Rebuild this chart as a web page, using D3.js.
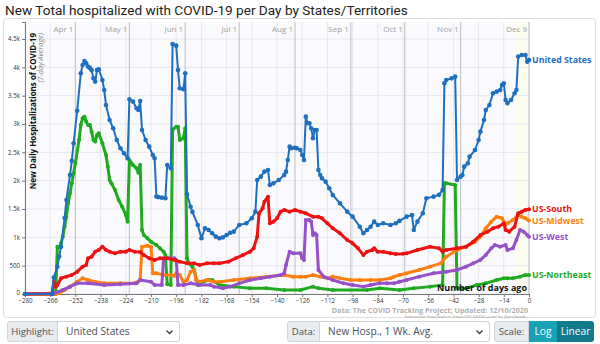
<!DOCTYPE html>
<html>
<head>
<meta charset="utf-8">
<script src="https://cdn.jsdelivr.net/npm/d3@7"></script>
<style>
  body { margin: 0; background: #fff; font-family: "Open Sans", sans-serif; }
  #wrap { position: relative; width: 600px; height: 344px; overflow: hidden; }
  #wrap > svg { position: absolute; left: 0; top: 0; }
  .grp { position: absolute; top: 321px; height: 21px; display: flex; font-size: 10.2px; color: #495057; }
  .grp div { box-sizing: border-box; height: 21px; white-space: nowrap; }
  .grp .lbl { background: #e9ecef; border: 1px solid #ced4da; border-radius: 3px 0 0 3px; padding: 0 3px; line-height: 19px; font-size: 9.6px; text-align: center; }
  .grp .sel { position: relative; background: #fff; border: 1px solid #ced4da; border-left: none; border-radius: 0 3px 3px 0; padding: 0 8px; line-height: 19px; }
  .grp .sel svg { position: absolute; right: 6px; top: 8px; }
  .grp .btn { color: #fff; line-height: 21px; text-align: center; }
</style>
</head>
<body>
<div id="wrap"></div>
<script>
// chart size
const width = 600;
const height = 344;
const plot = {left: 25, right: 529, top: 22, bottom: 294};

// days ago -> 7-day average of new hospitalizations
const usData = [
  [-280,0],[-265,0],[-264,290],[-262,480],[-261,660],[-260,835],[-258,1340],[-257,1660],
  [-255,2100],[-254,2350],[-253,2660],[-251,3235],[-249,3895],[-248,4042],[-247,4112],[-246,4070],
  [-245,4013],[-244,3990],[-243,3950],[-242,3807],[-241,3748],[-240,3953],[-239,3966],[-237,3777],
  [-236,3600],[-235,3336],[-233,3071],[-231,2925],[-229,2718],[-227,2571],[-225,2483],[-223,2395],
  [-222,3436],[-220,3395],[-218,3277],[-217,3247],[-216,3406],[-215,2894],[-213,2718],[-211,2600],
  [-209,2453],[-208,2395],[-207,1720],[-206,1710],[-204,1700],[-202,1690],[-201,2277],[-199,2218],
  [-198,4412],[-196,4383],[-195,3953],[-194,3630],[-192,3612],[-191,3895],[-190,1760],[-188,1540],
  [-187,1450],[-184,1218],[-182,983],[-180,1160],[-178,1130],[-176,1071],[-174,1012],[-172,983],
  [-170,1000],[-168,1041],[-166,1080],[-164,1100],[-161,1218],[-157,1248],[-154,1336],[-152,1453],
  [-151,2012],[-149,2071],[-147,2159],[-145,2189],[-144,1924],[-142,1953],[-139,2012],[-136,2100],
  [-135,2159],[-134,2365],[-133,2600],[-132,2571],[-130,2580],[-129,2571],[-127,2541],[-126,2453],
  [-125,2365],[-124,3130],[-123,3013],[-122,3013],[-121,2924],[-120,2748],[-119,2894],[-118,2894],
  [-117,2189],[-116,2100],[-115,2041],[-113,1983],[-111,1865],[-109,1747],[-105,1600],[-101,1453],
  [-98,1365],[-94,1188],[-92,1071],[-90,1130],[-88,1188],[-86,1277],[-84,1218],[-81,1248],
  [-77,1218],[-74,1248],[-72,1290],[-68,1365],[-65,1394],[-64,1130],[-62,1277],[-59,1424],
  [-57,1688],[-53,1718],[-50,1750],[-48,1836],[-47,3718],[-46,3777],[-43,3806],[-41,3836],
  [-40,2012],[-38,2071],[-37,2100],[-36,2247],[-34,2306],[-33,2424],[-30,2541],[-28,2718],
  [-27,2865],[-25,3071],[-24,3247],[-22,3336],[-20,3542],[-18,3571],[-16,3600],[-15,3689],
  [-14,3718],[-13,3424],[-12,3365],[-10,3424],[-8,3542],[-7,3600],[-6,4189],[-4,4218],
  [-2,4218],[-1,4100],[0,4130]
];

const southData = [
  [-280,0],[-265,0],[-264,217],[-263,130],[-262,159],[-260,277],[-257,306],[-254,335],
  [-251,394],[-248,482],[-246,512],[-245,630],[-243,658],[-241,747],[-239,777],[-237,835],
  [-235,777],[-233,747],[-230,718],[-227,747],[-224,747],[-222,777],[-219,747],[-216,740],
  [-214,688],[-211,630],[-208,600],[-205,630],[-201,630],[-197,600],[-194,571],[-190,541],
  [-186,541],[-183,512],[-179,541],[-175,541],[-172,541],[-167,571],[-163,630],[-159,688],
  [-155,747],[-153,806],[-151,1012],[-150,1424],[-148,1512],[-147,1630],[-145,1718],[-144,1248],
  [-142,1277],[-140,1336],[-138,1453],[-136,1483],[-133,1453],[-130,1483],[-127,1453],[-124,1424],
  [-120,1365],[-117,1365],[-115,1336],[-112,1248],[-109,1160],[-105,1071],[-101,953],[-98,894],
  [-95,806],[-92,688],[-90,747],[-87,777],[-86,806],[-84,747],[-81,747],[-77,718],
  [-74,706],[-70,710],[-68,718],[-62,777],[-55,835],[-50,806],[-48,747],[-46,777],
  [-40,806],[-35,835],[-31,923],[-27,1041],[-23,1100],[-20,1160],[-17,1188],[-14,1248],
  [-13,1130],[-11,1100],[-8,1188],[-6,1424],[-4,1453],[-2,1483],[0,1495]
];

const midwestData = [
  [-280,0],[-263,0],[-261,12],[-258,70],[-255,130],[-251,217],[-248,277],[-245,247],
  [-241,217],[-236,188],[-227,188],[-219,188],[-216,247],[-215,835],[-212,850],[-210,835],
  [-209,365],[-207,365],[-203,335],[-199,335],[-197,318],[-196,365],[-194,335],[-192,217],
  [-190,247],[-188,394],[-186,424],[-185,247],[-183,217],[-179,247],[-175,217],[-171,217],
  [-164,247],[-155,277],[-146,306],[-136,335],[-131,306],[-127,306],[-124,306],[-120,335],
  [-116,306],[-112,277],[-109,306],[-105,277],[-99,247],[-94,247],[-88,247],[-83,247],
  [-77,277],[-75,306],[-72,335],[-68,365],[-61,424],[-55,482],[-49,541],[-46,658],
  [-40,777],[-35,835],[-30,923],[-27,1012],[-24,1160],[-21,1277],[-18,1365],[-15,1336],
  [-13,1218],[-12,1248],[-9,1306],[-6,1394],[-4,1365],[-2,1336],[0,1295]
];

const westData = [
  [-280,0],[-264,12],[-259,71],[-255,130],[-251,188],[-245,188],[-236,159],[-227,171],
  [-218,188],[-216,247],[-210,217],[-208,159],[-204,159],[-203,630],[-200,630],[-197,630],
  [-196,600],[-195,159],[-192,159],[-188,188],[-183,159],[-177,159],[-175,130],[-170,100],
  [-166,130],[-161,188],[-155,247],[-149,277],[-144,306],[-138,335],[-136,365],[-135,512],
  [-133,747],[-131,718],[-127,718],[-126,630],[-125,600],[-124,1306],[-122,1306],[-121,1277],
  [-120,1041],[-119,1071],[-118,1041],[-117,424],[-114,306],[-109,247],[-103,188],[-98,159],
  [-92,130],[-88,159],[-83,188],[-79,188],[-75,188],[-72,217],[-68,247],[-61,306],
  [-53,365],[-46,394],[-40,424],[-35,482],[-31,541],[-27,600],[-24,688],[-21,806],
  [-19,865],[-16,835],[-13,865],[-12,777],[-9,806],[-7,953],[-5,1130],[-3,1100],
  [-1,1041],[0,1012]
];

const northeastData = [
  [-280,0],[-263,0],[-262,835],[-261,823],[-260,894],[-259,1012],[-258,1188],[-257,1365],
  [-256,1600],[-255,1777],[-254,1953],[-253,2130],[-252,2306],[-250,2718],[-249,2983],[-248,3100],
  [-247,3130],[-246,3042],[-245,2983],[-244,2983],[-243,2865],[-242,2718],[-241,2689],[-240,2806],
  [-239,2836],[-237,2659],[-235,2453],[-234,2247],[-233,2012],[-232,1953],[-230,1836],[-228,1659],
  [-226,1541],[-224,1394],[-223,1277],[-222,2365],[-220,2277],[-218,2218],[-217,2141],[-216,2277],
  [-215,1130],[-214,1041],[-212,983],[-210,923],[-207,865],[-205,806],[-203,747],[-202,688],
  [-201,170],[-199,160],[-198,2900],[-196,2953],[-195,2953],[-194,2718],[-192,2748],[-191,2924],
  [-190,630],[-189,541],[-187,482],[-186,424],[-184,159],[-182,200],[-178,247],[-176,247],
  [-172,159],[-164,130],[-155,100],[-146,100],[-136,71],[-127,71],[-120,130],[-117,100],
  [-109,71],[-90,71],[-83,100],[-72,71],[-64,100],[-55,130],[-48,159],[-47,1953],
  [-46,1953],[-41,1924],[-40,100],[-35,100],[-29,159],[-24,188],[-18,247],[-14,277],
  [-12,280],[-9,277],[-5,306],[-2,335],[0,335]
];

// drawing order: regions first, the highlighted country on top
const seriesNames = ["US-Northeast", "US-Midwest", "US-West", "US-South", "United States"];
const seriesValues = [northeastData, midwestData, westData, southData, usData];
const seriesColors = ["#1faa1f", "#ff7f0e", "#9650c8", "#ee1111", "#1f6fbf"];

const monthLabels = ["Apr 1", "May 1", "Jun 1", "Jul 1", "Aug 1", "Sep 1", "Oct 1", "Nov 1", "Dec 9"];
const monthDays = [-252, -222, -191, -161, -130, -99, -69, -38, 0];

const xTicks = d3.range(-280, 1, 14);
const yTicks = d3.range(0, 4501, 500);

const svg = d3.select("#wrap").append("svg")
  .attr("width", width)
  .attr("height", height)
  .attr("font-family", "Open Sans, sans-serif");

const x = d3.scaleLinear().domain([-280, 0]).range([plot.left, plot.right]);
const y = d3.scaleLinear().domain([0, 4800]).range([plot.bottom, plot.top]);

// title
svg.append("text")
  .attr("x", 5).attr("y", 15)
  .attr("font-family", "Roboto, sans-serif")
  .attr("font-size", 13.6)
  .attr("fill", "#222")
  .text("New Total hospitalized with COVID-19 per Day by States/Territories");

// card outline
svg.append("rect")
  .attr("x", 3.5).attr("y", 18.5)
  .attr("width", 592).attr("height", 299)
  .attr("rx", 3)
  .attr("fill", "none")
  .attr("stroke", "#dedede");

// plot background and last-week band
svg.append("rect")
  .attr("x", plot.left).attr("y", plot.top)
  .attr("width", plot.right - plot.left).attr("height", plot.bottom - plot.top)
  .attr("fill", "#fafafd");

svg.append("rect")
  .attr("x", x(-7)).attr("y", plot.top)
  .attr("width", x(0) - x(-7)).attr("height", plot.bottom - plot.top)
  .attr("fill", "#fcfcee");

// grid
svg.append("g")
  .selectAll("line")
  .data(xTicks)
  .join("line")
    .attr("x1", d => x(d)).attr("x2", d => x(d))
    .attr("y1", plot.top).attr("y2", plot.bottom)
    .attr("stroke", "#e6e6f0");

svg.append("g")
  .selectAll("line")
  .data(yTicks)
  .join("line")
    .attr("x1", plot.left).attr("x2", plot.right)
    .attr("y1", d => y(d)).attr("y2", d => y(d))
    .attr("stroke", "#e6e6f0");

// month markers
const months = svg.append("g");
months.selectAll("line")
  .data(monthDays)
  .join("line")
    .attr("x1", d => x(d)).attr("x2", d => x(d))
    .attr("y1", plot.top).attr("y2", plot.bottom)
    .attr("stroke", "#c8c8cc")
    .attr("stroke-width", 1.2);

months.selectAll("text")
  .data(monthDays)
  .join("text")
    .attr("x", d => x(d) - 2)
    .attr("y", 32)
    .attr("text-anchor", "end")
    .attr("font-size", 8)
    .attr("fill", "#a0a0a0")
    .text((d, i) => monthLabels[i]);

// axes
const xAxis = svg.append("g")
  .attr("transform", `translate(0,${plot.bottom})`)
  .call(d3.axisBottom(x).tickValues(xTicks).tickSize(3).tickPadding(1.5));

const yAxis = svg.append("g")
  .attr("transform", `translate(${plot.left},0)`)
  .call(d3.axisLeft(y).tickValues(yTicks).tickSize(3).tickPadding(2)
    .tickFormat(d => d >= 1000 ? (d / 1000) + "k" : d));

[xAxis, yAxis].forEach(a => {
  a.attr("font-family", "Open Sans, sans-serif").attr("font-size", 6.2);
  a.selectAll("path, line").attr("stroke", "#777");
  a.selectAll("text").attr("fill", "#333");
});
// lift the zero label a touch so it clears -280
yAxis.selectAll(".tick text").filter(d => d === 0).attr("dy", "0.1em");

// y axis title
svg.append("text")
  .attr("transform", `translate(36,33) rotate(-90)`)
  .attr("text-anchor", "end")
  .attr("font-size", 8)
  .attr("font-weight", "bold")
  .attr("fill", "#111")
  .text("New Daily Hospitalizations of COVID-19");

svg.append("text")
  .attr("transform", `translate(43,33) rotate(-90)`)
  .attr("text-anchor", "end")
  .attr("font-size", 7.3)
  .attr("font-style", "italic")
  .attr("fill", "#888")
  .text("(7-day Average)");

// lines
const line = d3.line()
  .x(d => x(d[0]))
  .y(d => y(d[1]));

seriesValues.forEach((vals, i) => {
  const isMain = seriesNames[i] === "United States";
  const g = svg.append("g");
  g.append("path")
    .datum(vals)
    .attr("d", line)
    .attr("fill", "none")
    .attr("stroke", seriesColors[i])
    .attr("stroke-width", isMain ? 2 : 3)
    .attr("stroke-linejoin", "round");
  g.selectAll("circle")
    .data(vals)
    .join("circle")
      .attr("cx", d => x(d[0]))
      .attr("cy", d => y(d[1]))
      .attr("r", isMain ? 2.3 : 2)
      .attr("fill", seriesColors[i]);

  const last = vals[vals.length - 1];
  svg.append("text")
    .attr("x", x(last[0]) + 3)
    .attr("y", y(last[1]))
    .attr("dy", "0.35em")
    .attr("font-size", 8.8)
    .attr("font-weight", "bold")
    .attr("fill", seriesColors[i])
    .text(seriesNames[i]);
});

// footer notes inside the plot
svg.append("text")
  .attr("x", 527).attr("y", 291)
  .attr("text-anchor", "end")
  .attr("font-size", 9)
  .attr("font-weight", "bold")
  .attr("fill", "#111")
  .text("Number of days ago");

svg.append("text")
  .attr("x", 528).attr("y", 312.5)
  .attr("text-anchor", "end")
  .attr("font-size", 7.2)
  .attr("font-weight", "bold")
  .attr("fill", "#b0b0b0")
  .text("Data: The COVID Tracking Project; Updated: 12/10/2020");

svg.append("text")
  .attr("x", 528).attr("y", 317.5)
  .attr("text-anchor", "end")
  .attr("font-size", 4.2)
  .attr("fill", "#999")
  .text("Interactive Visualization: https://91-DIVOC.com/ by @profwade_");

// controls under the chart
const chevron = '<svg width="7" height="5"><polyline points="0.5,0.5 3.5,3.5 6.5,0.5" fill="none" stroke="#343a40" stroke-width="1.3"/></svg>';
const wrap = d3.select("#wrap");

const g1 = wrap.append("div").attr("class", "grp").style("left", "7px");
g1.append("div").attr("class", "lbl").style("width", "51px").text("Highlight:");
g1.append("div").attr("class", "sel").style("width", "122px").html("United States" + chevron);

const g2 = wrap.append("div").attr("class", "grp").style("left", "287px");
g2.append("div").attr("class", "lbl").style("width", "33px").text("Data:");
g2.append("div").attr("class", "sel").style("width", "170px").html("New Hosp., 1 Wk. Avg." + chevron);

const g3 = wrap.append("div").attr("class", "grp").style("left", "494px");
g3.append("div").attr("class", "lbl").style("width", "35px").text("Scale:");
g3.append("div").attr("class", "btn").style("width", "28px").style("background", "#17a2b8").text("Log");
g3.append("div").attr("class", "btn").style("width", "37px").style("background", "#117a8b").style("border-radius", "0 3px 3px 0").text("Linear");
</script>
</body>
</html>
